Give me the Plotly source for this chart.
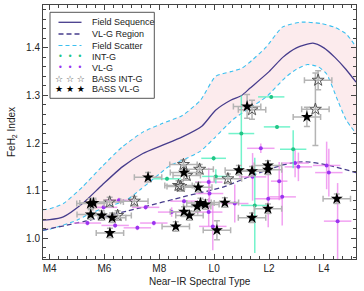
import plotly.graph_objects as go

# ---------------- curves ----------------
seq_sp = [3.76, 4.0, 4.5, 5.2, 5.9, 6.65, 7.4, 8.1, 8.84, 9.56, 10.05, 10.6, 11.0, 11.3, 12.0, 12.5, 13.0, 13.6, 14.0, 14.4, 14.8, 15.17]
seq_val = [1.038, 1.039, 1.045, 1.073, 1.111, 1.150, 1.178, 1.195, 1.213, 1.236, 1.269, 1.290, 1.300, 1.315, 1.350, 1.380, 1.400, 1.410, 1.400, 1.380, 1.355, 1.328]

up_sp = [3.76, 4.0, 4.5, 5.2, 5.9, 6.65, 7.4, 8.1, 8.84, 9.5, 10.05, 10.6, 11.0, 11.4, 11.9, 12.5, 13.2, 13.9, 14.4, 14.8, 15.17]
up_val = [1.060, 1.062, 1.073, 1.108, 1.150, 1.192, 1.223, 1.241, 1.258, 1.290, 1.340, 1.350, 1.357, 1.375, 1.402, 1.444, 1.454, 1.451, 1.443, 1.430, 1.402]

lo_sp = [3.76, 4.0, 5.0, 5.4, 6.0, 6.8, 7.3, 8.0, 8.4, 9.0, 9.5, 10.0, 10.7, 11.2, 11.9, 12.6, 13.0, 13.4, 13.8, 14.1, 14.5, 14.8, 15.17]
lo_val = [1.017, 1.019, 1.038, 1.050, 1.064, 1.080, 1.102, 1.135, 1.153, 1.168, 1.183, 1.210, 1.250, 1.270, 1.297, 1.338, 1.355, 1.365, 1.360, 1.345, 1.290, 1.250, 1.220]

vlg_sp = [3.76, 5.3, 7.3, 9.0, 10.35, 11.3, 12.0, 12.5, 13.0, 13.5, 14.2, 15.17]
vlg_val = [1.017, 1.036, 1.064, 1.089, 1.108, 1.130, 1.145, 1.154, 1.160, 1.160, 1.153, 1.138]

# ---------------- INT-G (literature) ----------------
intg_sp = [8.28, 9.98, 10.06, 10.99, 12.08, 12.29, 12.88, 11.48]
intg_val = [1.125, 1.168, 1.130, 1.220, 1.297, 1.234, 1.187, 1.069]
intg_xerr = [0.5, 0.45, 0.5, 0.47, 0.48, 0.48, 0.48, 0.5]
intg_yerr = [0.004, 0.005, 0.015, 0.08, 0.004, 0.004, 0.04, 0.1]

# ---------------- VL-G (literature) ----------------
vl_sp = [5.97, 6.53, 7.5, 5.38, 6.39, 7.2, 7.8, 8.9, 8.45, 9.8, 9.83, 9.8, 9.95, 10.75, 11.4, 11.7, 12.37, 11.97, 12.48, 12.95, 13.07, 14.1, 14.18, 14.5]
vl_val = [1.065, 1.080, 1.065, 1.032, 1.027, 1.022, 1.032, 1.078, 1.055, 1.118, 1.094, 1.055, 1.025, 1.073, 1.129, 1.189, 1.120, 1.083, 1.087, 1.158, 1.150, 1.153, 1.138, 1.036]
vl_xerr = [0.5, 0.5, 0.5, 0.5, 0.5, 0.5, 0.5, 0.5, 0.5, 0.5, 0.5, 0.5, 0.5, 0.5, 0.5, 0.5, 0.3, 0.5, 0.5, 0.5, 0.5, 0.5, 0.5, 0.5]
vl_yerr = [0.005, 0.005, 0.005, 0.005, 0.005, 0.005, 0.005, 0.005, 0.01, 0.03, 0.03, 0.03, 0.05, 0.04, 0.05, 0.01, 0.04, 0.06, 0.06, 0.03, 0.03, 0.05, 0.05, 0.08]

# ---------------- BASS INT-G ----------------
bi_sp = [6.19, 7.09, 6.48, 8.88, 9.0, 9.47, 8.70, 8.78, 10.5, 11.38, 13.69, 13.79]
bi_val = [1.076, 1.078, 1.048, 1.155, 1.132, 1.145, 1.111, 1.109, 1.125, 1.270, 1.271, 1.332]
bi_xerr = [0.5] * 12
bi_yerr = [0.01, 0.01, 0.01, 0.01, 0.01, 0.01, 0.01, 0.01, 0.01, 0.02, 0.076, 0.02]

# ---------------- BASS VL-G ----------------
bv_sp = [5.49, 5.6, 5.5, 5.9, 6.28, 6.2, 7.59, 8.6, 8.9, 9.42, 9.5, 9.38, 9.68, 8.9, 9.1, 10.39, 10.1, 10.9, 11.38, 11.96, 11.96, 11.96, 11.38, 14.47, 11.2, 13.38]
bv_val = [1.073, 1.074, 1.050, 1.048, 1.043, 1.011, 1.128, 1.025, 1.138, 1.107, 1.074, 1.067, 1.071, 1.056, 1.048, 1.075, 1.017, 1.143, 1.141, 1.153, 1.144, 1.062, 1.043, 1.083, 1.277, 1.255]
bv_xerr = [0.5] * 26
bv_yerr = [0.01, 0.01, 0.01, 0.01, 0.01, 0.01, 0.01, 0.01, 0.015, 0.01, 0.01, 0.01, 0.01, 0.01, 0.01, 0.01, 0.02, 0.01, 0.01, 0.01, 0.01, 0.01, 0.01, 0.01, 0.025, 0.02]

xtick_vals = [4, 6, 8, 10, 12, 14]
xtick_text = ["M4", "M6", "M8", "L0", "L2", "L4"]

legend_labels = ["Field Sequence", "VL-G Region", "Field Scatter", "INT-G", "VL-G", "BASS INT-G", "BASS VL-G"]

DARK = "#463c8c"
CYAN = "#3cc0f0"
FONT = "Liberation Sans, Arial, sans-serif"

fig = go.Figure()

# pink scatter region
fig.add_trace(go.Scatter(
    x=up_sp + lo_sp[::-1], y=up_val + lo_val[::-1],
    fill="toself", fillcolor="rgba(250,215,220,0.5)",
    line=dict(width=0, shape="spline", smoothing=0.6), mode="lines",
    hoverinfo="skip", showlegend=False))

fig.add_trace(go.Scatter(x=up_sp, y=up_val, mode="lines",
                         line=dict(color=CYAN, width=1.1, dash="4px,3px", shape="spline", smoothing=0.6), showlegend=False))
fig.add_trace(go.Scatter(x=lo_sp, y=lo_val, mode="lines",
                         line=dict(color=CYAN, width=1.1, dash="4px,3px", shape="spline", smoothing=0.6), showlegend=False))
fig.add_trace(go.Scatter(x=seq_sp, y=seq_val, mode="lines",
                         line=dict(color=DARK, width=1.3, shape="spline", smoothing=0.6), showlegend=False))
fig.add_trace(go.Scatter(x=vlg_sp, y=vlg_val, mode="lines",
                         line=dict(color=DARK, width=1.3, dash="5px,3px", shape="spline", smoothing=0.6), showlegend=False))

# literature VL-G
fig.add_trace(go.Scatter(x=vl_sp, y=vl_val, mode="markers",
                         marker=dict(color="#9a33f0", size=4),
                         error_x=dict(type="data", array=vl_xerr, color="rgba(236,130,236,0.75)", thickness=1.5, width=0),
                         error_y=dict(type="data", array=vl_yerr, color="rgba(236,130,236,0.75)", thickness=1.5, width=0),
                         showlegend=False))
# literature INT-G
fig.add_trace(go.Scatter(x=intg_sp, y=intg_val, mode="markers",
                         marker=dict(color="#22c585", size=4),
                         error_x=dict(type="data", array=intg_xerr, color="rgba(80,240,190,0.8)", thickness=1.5, width=0),
                         error_y=dict(type="data", array=intg_yerr, color="rgba(80,240,190,0.8)", thickness=1.5, width=0),
                         showlegend=False))
# BASS INT-G
fig.add_trace(go.Scatter(x=bi_sp, y=bi_val, mode="markers",
                         marker=dict(symbol="star-open", color="#555555", size=9, line=dict(width=1)),
                         error_x=dict(type="data", array=bi_xerr, color="#b4b4b4", thickness=1.5, width=3),
                         error_y=dict(type="data", array=bi_yerr, color="#b4b4b4", thickness=1.5, width=3),
                         showlegend=False))
# BASS VL-G
fig.add_trace(go.Scatter(x=bv_sp, y=bv_val, mode="markers",
                         marker=dict(symbol="star", color="black", size=9),
                         error_x=dict(type="data", array=bv_xerr, color="#b4b4b4", thickness=1.5, width=3),
                         error_y=dict(type="data", array=bv_yerr, color="#b4b4b4", thickness=1.5, width=3),
                         showlegend=False))

# ---------------- manual legend ----------------
L, R, T, B = 43, 356, 5, 259
def px(xp):
    return (xp - L) / (R - L)
def py(yp):
    return (B - yp) / (B - T)

shapes = [dict(type="rect", xref="paper", yref="paper",
               x0=px(50), x1=px(154.3), y0=py(98.3), y1=py(12.3),
               line=dict(color="#555555", width=1), fillcolor="white", layer="above")]
rows = [22.3, 34.0, 45.5, 56.6, 67.6, 78.8, 89.4]
line_styles = [dict(color=DARK, width=1.3), dict(color=DARK, width=1.3, dash="5px,3px"),
               dict(color=CYAN, width=1.1, dash="4px,3px")]
for i, st in enumerate(line_styles):
    shapes.append(dict(type="line", xref="paper", yref="paper", x0=px(58.5), x1=px(81.5),
                       y0=py(rows[i]), y1=py(rows[i]), line=st, layer="above"))

annotations = []
for i, lab in enumerate(legend_labels):
    annotations.append(dict(text=lab, xref="paper", yref="paper", x=px(89.5), y=py(rows[i]),
                            xanchor="left", yanchor="middle", showarrow=False,
                            font=dict(family=FONT, size=9, color="#222222")))
sym_rows = [("•  •  •", "#22c585", 8), ("•  •  •", "#9a33f0", 8), ("☆ ☆ ☆", "#444444", 9), ("★ ★ ★", "black", 9)]
for j, (txt, col, sz) in enumerate(sym_rows):
    annotations.append(dict(text=txt, xref="paper", yref="paper", x=px(69.5), y=py(rows[3 + j]),
                            xanchor="center", yanchor="middle", showarrow=False,
                            font=dict(family="DejaVu Sans", size=sz, color=col)))

# x-axis title
annotations.append(dict(text="Near\u2212IR Spectral Type", xref="paper", yref="paper",
                        x=0.5, y=py(281.5), xanchor="center", yanchor="middle", showarrow=False,
                        font=dict(family=FONT, size=10, color="#222222")))

axis_common = dict(showline=True, linecolor="#444444", linewidth=1, mirror="allticks",
                   ticks="inside", tickcolor="#444444", ticklen=5, tickwidth=1,
                   showgrid=False, zeroline=False,
                   tickfont=dict(family=FONT, size=10, color="#222222"))

fig.update_layout(
    width=364, height=291,
    margin=dict(l=L, r=364 - R, t=T, b=291 - B),
    paper_bgcolor="white", plot_bgcolor="white",
    showlegend=False, hovermode=False,
    shapes=shapes, annotations=annotations,
    xaxis=dict(range=[3.76, 15.17], tickvals=xtick_vals, ticktext=xtick_text,
               minor=dict(dtick=1/3, tick0=4, ticklen=3, ticks="inside", tickcolor="#444444"),
               **axis_common),
    yaxis=dict(range=[0.9565, 1.49], tickvals=[1.0, 1.1, 1.2, 1.3, 1.4], ticktext=["1.0", "1.1", "1.2", "1.3", "1.4"],
               minor=dict(dtick=0.02, tick0=1.0, ticklen=3, ticks="inside", tickcolor="#444444"),
               title=dict(text="FeH<sub>2</sub> Index", font=dict(family=FONT, size=10, color="#222222"), standoff=8),
               **axis_common),
)

fig.write_html("out.html", config={"displayModeBar": False, "staticPlot": True},
               post_script="document.body.style.margin='0';document.body.style.padding='0';")
